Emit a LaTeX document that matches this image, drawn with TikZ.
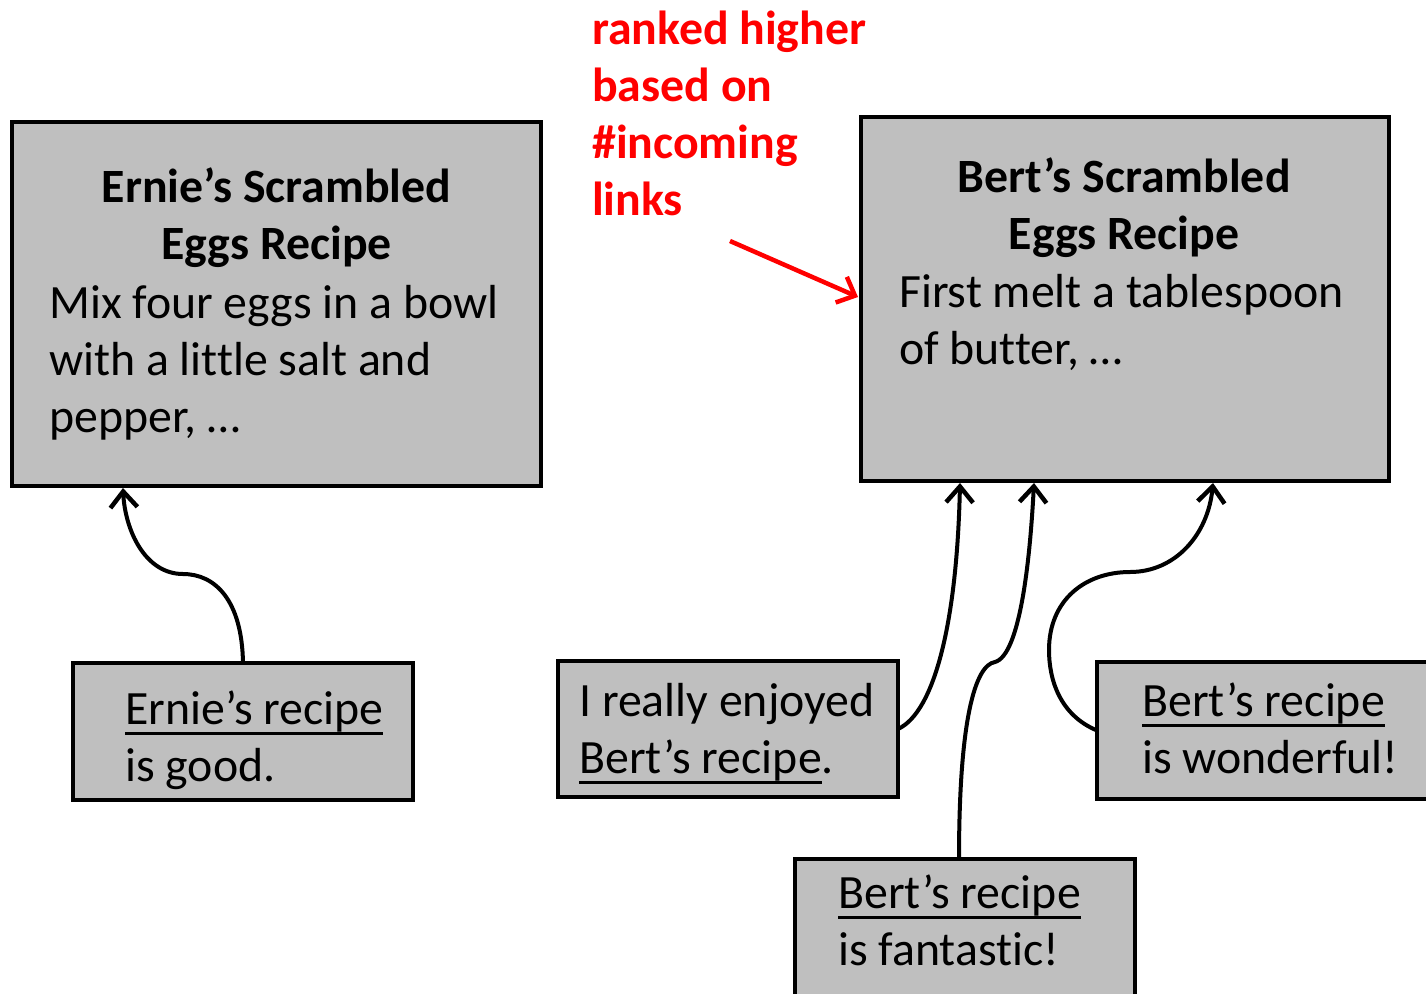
\documentclass[tikz,border=0pt]{standalone}
\usepackage{fontspec}
\setmainfont{Carlito}[Ligatures=NoCommon]
\usetikzlibrary{arrows.meta,calc}

\definecolor{cardgray}{RGB}{191,191,191}
\definecolor{notered}{RGB}{255,0,0}

% stacked lines, baseline = first line
\newcommand\leftlines[1]{\vtop{\baselineskip=57pt\lineskiplimit=-100pt\halign{##\hfil\cr#1\crcr}}}
\newcommand\midlines[1]{\vtop{\baselineskip=57pt\lineskiplimit=-100pt\halign{\hfil##\hfil\cr#1\crcr}}}
% link-style underline crossing the descenders
\newcommand\linkul[1]{\setbox0\hbox{#1}\rlap{\rule[-10.5pt]{\wd0}{3pt}}\box0}

\tikzset{
  card/.style={draw=black, fill=cardgray, line width=4pt, inner sep=0pt,
               outer sep=0pt, anchor=north west},
  txt/.style={inner sep=0pt, font=\fontsize{47.8pt}{57pt}\selectfont},
  link/.style={draw=black, line width=4pt,
               -{Straight Barb[length=16pt,width=27pt,line width=4.5pt]}},
  redlink/.style={draw=notered, line width=4.5pt,
               -{Straight Barb[length=15pt,width=28pt,line width=4.5pt]}}
}

\begin{document}
\begin{tikzpicture}[x=1pt,y=-1pt]
\path[use as bounding box] (0,0) rectangle (1426,993);
\clip (0,0) rectangle (1426,993);

% recipe pages
\node[card, minimum width=529pt, minimum height=364pt] (ernie) at (12,122) {};
\node[card, minimum width=528pt, minimum height=364pt] (bert) at (861,117) {};

% linking pages
\node[card, minimum width=340pt, minimum height=137pt] (erniegood) at (73,663) {};
\node[card, minimum width=340pt, minimum height=136pt] (enjoy) at (558,661) {};
\node[card, minimum width=340pt, minimum height=137pt] (wonder) at (1097,662) {};
\node[card, minimum width=340pt, minimum height=140pt] (fantastic) at (795,859) {};

% page texts
\node[txt, anchor=base] (ernietitle) at (276.5,202)
  {\bfseries\midlines{Ernie’s Scrambled\cr Eggs Recipe}};
\node[txt, anchor=base west] (erniebody) at (49,318)
  {\leftlines{Mix four eggs in a bowl\cr with a little salt and\cr pepper, …}};
\node[txt, anchor=base] (berttitle) at (1124,192)
  {\bfseries\midlines{Bert’s Scrambled\cr Eggs Recipe}};
\node[txt, anchor=base west] (bertbody) at (899,307)
  {\leftlines{First melt a tablespoon\cr of butter, …}};

\node[txt, anchor=base west] (erniegoodtxt) at (125,724)
  {\leftlines{\linkul{Ernie’s recipe}\cr is good.}};
\node[txt, anchor=base west] (enjoytxt) at (579,716)
  {\leftlines{I really enjoyed\cr \linkul{Bert’s recipe}.}};
\node[txt, anchor=base west] (wondertxt) at (1142,716)
  {\leftlines{\linkul{Bert’s recipe}\cr is wonderful!}};
\node[txt, anchor=base west] (fantastictxt) at (838,908)
  {\leftlines{\linkul{Bert’s recipe}\cr is fantastic!}};

% annotation
\node[txt, anchor=base west, text=notered] (rank) at (592,44)
  {\bfseries\leftlines{ranked higher\cr based on\cr \#incoming\cr links}};
\coordinate (ranktail) at (730,241);
\draw[redlink] (ranktail) -- ([xshift=-3pt,yshift=-180pt]bert.north west);

% hyperlinks
\draw[link] ([xshift=170pt]erniegood.north west)
  .. controls (242,600) and (215,574) .. (183,574)
  .. controls (145,574) and (125,530) .. ([xshift=111pt,yshift=-2pt]ernie.south west);

\draw[link] (enjoy.east)
  .. controls (935,712) and (957,620) .. ([xshift=99pt,yshift=-2pt]bert.south west);

\draw[link] ([xshift=164pt]fantastic.north west)
  .. controls (959,720) and (975,665) .. (995,662)
  .. controls (1020,655) and (1030,560) .. ([xshift=173pt,yshift=-2pt]bert.south west);

\draw[link] (wonder.west)
  .. controls (1060,715) and (1049,680) .. (1049,650)
  .. controls (1049,600) and (1085,572) .. (1130,572)
  .. controls (1175,572) and (1208,535) .. ([xshift=352pt,yshift=-2pt]bert.south west);
\end{tikzpicture}
\end{document}
